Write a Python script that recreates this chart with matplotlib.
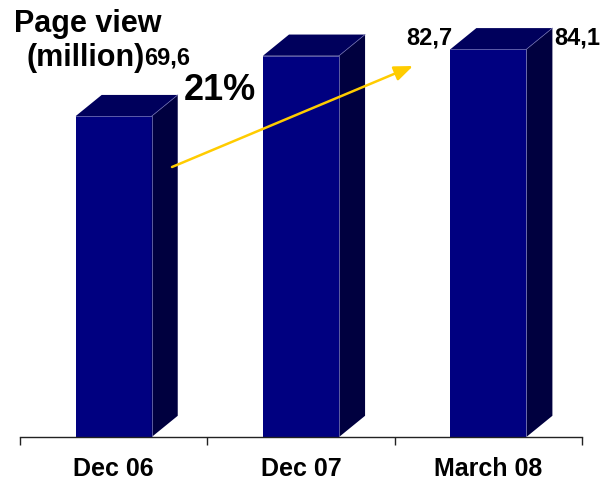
import matplotlib.pyplot as plt
from matplotlib.patches import Polygon

plt.rcParams['font.family'] = ['Liberation Sans', 'DejaVu Sans']

# Page views per period (million)
periods = ['Dec 06', 'Dec 07', 'March 08']
views = [69.6, 82.7, 84.1]
value_labels = ['69,6', '82,7', '84,1']
growth_label = '21%'

W, H = 607, 485
fig = plt.figure(figsize=(W / 100, H / 100), dpi=100)

# axes placed in pixels: x from 20 to 582, baseline at y=438
ax = fig.add_axes([20 / W, (H - 438) / H, 562 / W, 438 / H])
ax.set_xlim(-0.5, len(periods) - 0.5)
ax.set_ylim(0, 438 / 4.61)

front_c = '#000080'
top_c = '#00005c'
side_c = '#00003f'
edge_c = '#6b6bb0'

half = 0.203      # half width of the front face
dx, dy = 0.139, 4.6  # depth offset

for i, v in enumerate(views):
    x0, x1 = i - half, i + half
    ax.add_patch(Polygon([(x0, 0), (x1, 0), (x1, v), (x0, v)],
                         closed=True, facecolor=front_c, edgecolor='none', zorder=2))
    ax.add_patch(Polygon([(x0, v), (x1, v), (x1 + dx, v + dy), (x0 + dx, v + dy)],
                         closed=True, facecolor=top_c, edgecolor='none', zorder=2))
    ax.add_patch(Polygon([(x1, 0), (x1 + dx, dy), (x1 + dx, v + dy), (x1, v)],
                         closed=True, facecolor=side_c, edgecolor='none', zorder=2))
    ax.plot([x0, x1, x1], [v, v, 0], color=edge_c, lw=0.6, zorder=3)
    ax.plot([x1, x1 + dx], [v, v + dy], color=edge_c, lw=0.5, zorder=3)

# value labels, offsets in pixels from the front top edge
offsets = [(53, 59), (128, 19), (89, 12)]
for i, (v, lab) in enumerate(zip(views, value_labels)):
    ax.annotate(lab, (i, v), xytext=offsets[i], textcoords='offset pixels',
                ha='center', va='center', fontsize=17, fontweight='bold', zorder=5)

# category axis
for s in ['left', 'right', 'top']:
    ax.spines[s].set_visible(False)
ax.spines['bottom'].set_color('#222222')
ax.spines['bottom'].set_linewidth(1.0)
ax.set_yticks([])
ax.set_xticks([-0.5, 0.5, 1.5, 2.5])
ax.set_xticklabels([])
ax.tick_params(axis='x', which='major', direction='out', length=6, width=1, color='#222222')
ax.set_xticks(range(len(periods)), minor=True)
ax.set_xticklabels(periods, minor=True, fontsize=18, fontweight='bold')
ax.tick_params(axis='x', which='minor', length=0, pad=14)

# growth arrow
ax.annotate('', xy=(413 / W, 1 - 67 / H), xytext=(172 / W, 1 - 168 / H),
            xycoords='figure fraction', textcoords='figure fraction',
            arrowprops=dict(arrowstyle='-|>,head_length=0.75,head_width=0.3',
                            color='#ffcc00', lw=1.8,
                            mutation_scale=15, shrinkA=0, shrinkB=0), zorder=6)
fig.text(220 / W, 1 - 91 / H, growth_label, ha='center', va='center',
         fontsize=26, fontweight='bold')

fig.text(88 / W, 1 - 24 / H, 'Page view', ha='center', va='center',
         fontsize=22, fontweight='bold')
fig.text(86 / W, 1 - 58 / H, '(million)', ha='center', va='center',
         fontsize=22, fontweight='bold')

fig.savefig('out.png', dpi=100)
